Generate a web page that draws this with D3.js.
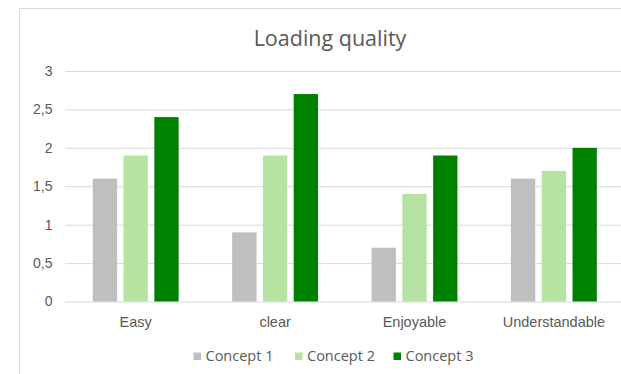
<!DOCTYPE html>
<html><head><meta charset="utf-8">
<script src="https://cdn.jsdelivr.net/npm/d3@7"></script>
<style>body{margin:0;background:#fff;}svg{display:block;font-family:"Open Sans",sans-serif;}</style>
</head><body><svg id="c" width="621" height="374"></svg>
<script>
const categories = ["Easy", "clear", "Enjoyable", "Understandable"];
const seriesNames = ["Concept 1", "Concept 2", "Concept 3"];
const concept1 = [1.6, 0.9, 0.7, 1.6];
const concept2 = [1.9, 1.9, 1.4, 1.7];
const concept3 = [2.4, 2.7, 1.9, 2.0];
const colors = ["#bfbfbf", "#b4e3a2", "#008000"];
const yTicks = [0, 0.5, 1, 1.5, 2, 2.5, 3];
const title = "Loading quality";

const series = [concept1, concept2, concept3];
const svg = d3.select("#c");
svg.append("rect").attr("x", 19.5).attr("y", 8.5).attr("width", 640).attr("height", 400)
  .attr("fill", "#fff").attr("stroke", "#d9d9d9");

const x0 = d3.scaleBand().domain(categories).range([66, 623.6]).paddingInner(0.384).paddingOuter(0.192);
const x1 = d3.scaleBand().domain(d3.range(series.length)).range([0, x0.bandwidth()]).paddingInner(0.21);
const y = d3.scaleLinear().domain([0, 3]).range([301.5, 71]);

const fmt = d => String(d).replace(".", ",");
const yAxis = svg.append("g").attr("transform", "translate(65,0)")
  .call(d3.axisLeft(y).tickValues(yTicks).tickSize(-600).tickFormat(fmt));
yAxis.select(".domain").remove();
yAxis.selectAll(".tick line").attr("stroke", "#d9d9d9");
yAxis.selectAll(".tick text").attr("x", -12.5).attr("fill", "#595959").style("font-size", "14px");

const g = svg.append("g");
categories.forEach((c, i) => {
  series.forEach((s, j) => {
    g.append("rect").attr("x", x0(c) + x1(j)).attr("y", y(s[i]))
      .attr("width", x1.bandwidth()).attr("height", y(0) - y(s[i])).attr("fill", colors[j]);
  });
});

const xAxis = svg.append("g").attr("transform", "translate(0,301.5)")
  .call(d3.axisBottom(x0).tickSize(0).tickPadding(0));
xAxis.select(".domain").remove();
xAxis.selectAll(".tick text").attr("dy", null).attr("y", 25).attr("fill", "#595959").style("font-size", "14.5px");

svg.append("text").attr("x", 330).attr("y", 46).attr("text-anchor", "middle")
  .attr("fill", "#595959").style("font-size", "21.5px").text(title);

const legendX = [193.5, 295, 393.5];
const lg = svg.append("g");
seriesNames.forEach((n, j) => {
  lg.append("rect").attr("x", legendX[j]).attr("y", 352.5).attr("width", 7.5).attr("height", 7.5).attr("fill", colors[j]);
  lg.append("text").attr("x", legendX[j] + 12).attr("y", 361).attr("fill", "#595959").style("font-size", "14.5px").text(n);
});
</script></body></html>
